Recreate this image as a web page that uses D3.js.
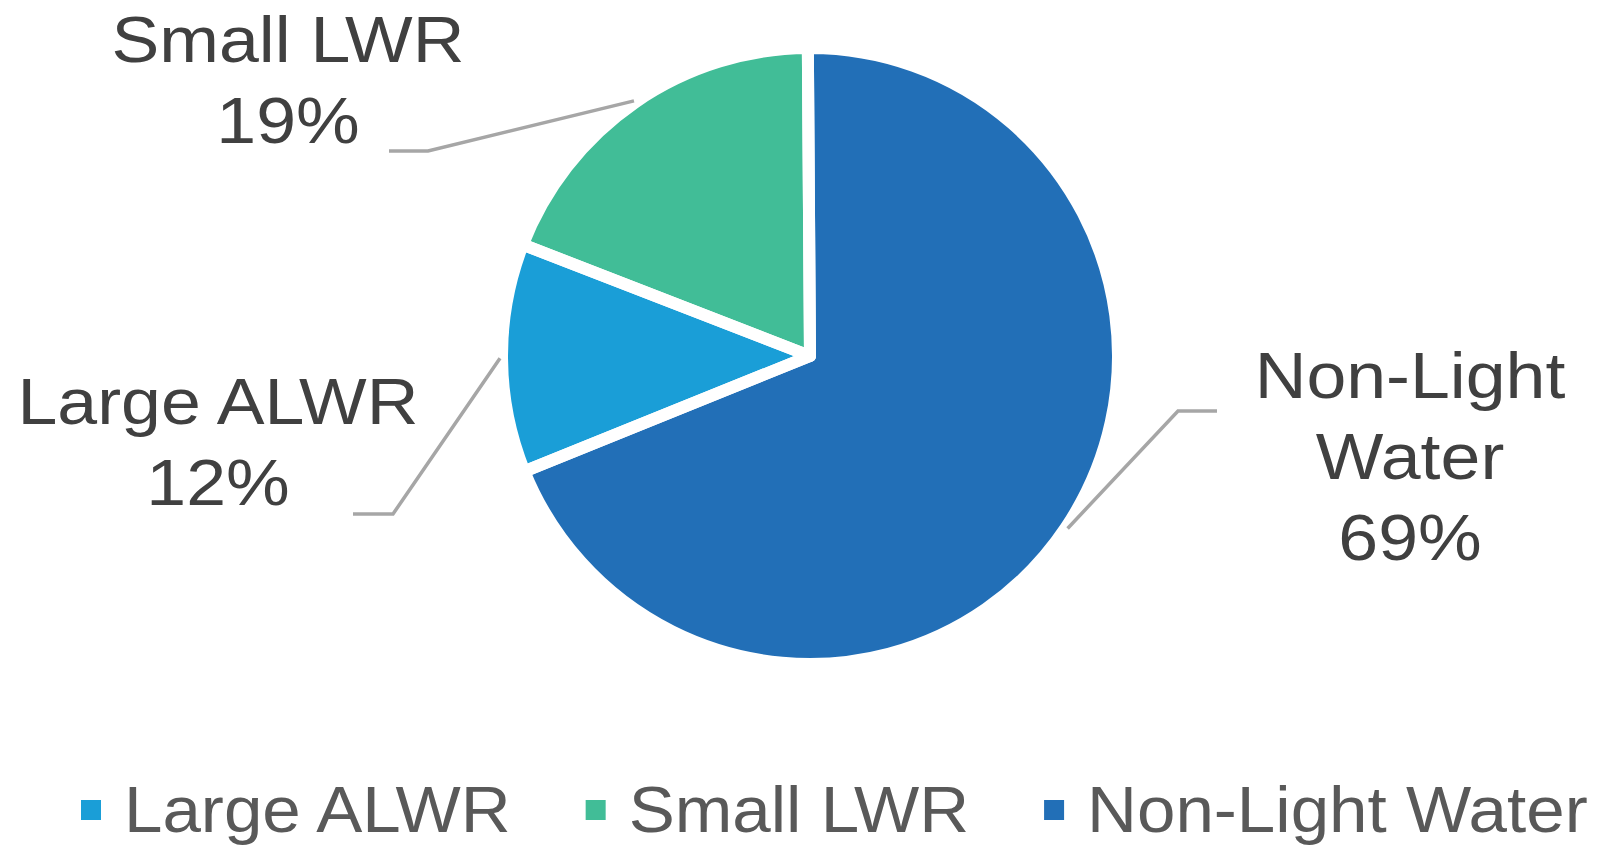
<!DOCTYPE html>
<html>
<head>
<meta charset="utf-8">
<script src="https://cdn.jsdelivr.net/npm/d3@7"></script>
<style>
  html, body { margin: 0; padding: 0; background: #fff; }
  svg { display: block; }
</style>
</head>
<body>
<div id="container"></div>
<script>
const width = 1598,
      height = 845;

// data
const categories = ["Large ALWR", "Small LWR", "Non-Light Water"];
const shares = [12, 19, 69];
const colors = ["#1a9ed7", "#41bd97", "#226fb7"];

// label layout (text block anchor + where the leader's flat tail ends)
const labelLines = [["Large ALWR", "12%"], ["Small LWR", "19%"], ["Non-Light", "Water", "69%"]];
const labelPos = [
  { x: 218, y: 424, elbowX: 393, tailX: 353, tailY: 514 },
  { x: 288, y: 62,  elbowX: 428, tailX: 389, tailY: 151 },
  { x: 1410, y: 398, elbowX: 1178, tailX: 1217, tailY: 411 }
];

const cx = 810, cy = 356, radius = 308;
const firstSliceAngle = 248; // degrees, like Excel's setting
const fontSize = 64, stretch = 1.12, legendStretch = 1.08; // source text is a bit wide

const svg = d3.select("#container")
  .append("svg")
  .attr("width", width)
  .attr("height", height);

const pie = d3.pie()
  .sort(null)
  .value(d => d)
  .startAngle(firstSliceAngle * Math.PI / 180)
  .endAngle(firstSliceAngle * Math.PI / 180 + 2 * Math.PI);

const arcs = pie(shares);

const arc = d3.arc().innerRadius(0).outerRadius(radius);
const leaderArc = d3.arc().innerRadius(radius + 2).outerRadius(radius + 2);

const g = svg.append("g")
  .attr("transform", `translate(${cx},${cy})`);

// fills first, then the white borders on top so gaps are even
g.append("g")
  .selectAll("path")
  .data(arcs)
  .enter()
  .append("path")
  .attr("d", arc)
  .attr("fill", (d, i) => colors[i]);

g.append("g")
  .selectAll("path")
  .data(arcs)
  .enter()
  .append("path")
  .attr("d", arc)
  .attr("fill", "none")
  .attr("stroke", "#fff")
  .attr("stroke-width", 12)
  .attr("stroke-linejoin", "round");

// leader lines
arcs.forEach((d, i) => {
  const [px, py] = leaderArc.centroid(d);
  const p = labelPos[i];
  svg.append("polyline")
    .attr("points", `${cx + px},${cy + py} ${p.elbowX},${p.tailY} ${p.tailX},${p.tailY}`)
    .attr("fill", "none")
    .attr("stroke", "#a6a6a6")
    .attr("stroke-width", 3.5);
});

// data labels
labelLines.forEach((lines, i) => {
  const t = svg.append("text")
    .attr("transform", `translate(${labelPos[i].x},${labelPos[i].y}) scale(${stretch},1)`)
    .attr("text-anchor", "middle")
    .style("font-family", "'Liberation Sans', Arial, sans-serif")
    .style("font-size", fontSize + "px")
    .attr("fill", "#404040");
  lines.forEach((line, j) => {
    t.append("tspan")
      .attr("x", 0)
      .attr("y", j * 81)
      .text(line);
  });
});

// legend
const legend = svg.append("g");
let lx = 81;
categories.forEach((c, i) => {
  legend.append("rect")
    .attr("x", lx)
    .attr("y", 800)
    .attr("width", 20)
    .attr("height", 20)
    .attr("fill", colors[i]);
  const txt = legend.append("text")
    .attr("transform", `translate(${lx + 43},832) scale(${legendStretch},1)`)
    .style("font-family", "'Liberation Sans', Arial, sans-serif")
    .style("font-size", fontSize + "px")
    .attr("fill", "#595959")
    .text(c);
  lx += 43 + txt.node().getComputedTextLength() * legendStretch + 75;
});
</script>
</body>
</html>
